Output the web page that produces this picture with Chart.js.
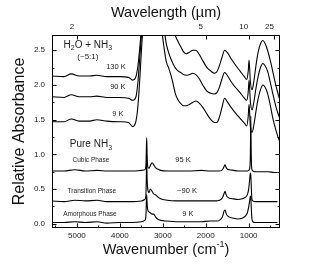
<!DOCTYPE html>
<html>
<head>
<meta charset="utf-8">
<script src="https://cdn.jsdelivr.net/npm/chart.js"></script>
<style>
  body { margin: 0; background: #fff; }
</style>
</head>
<body>
<canvas id="spectra" width="326" height="265"></canvas>
<script>
// axis ranges and tick labels
const wnMin = 270, wnMax = 5580;
const absMin = -0.06, absMax = 2.72;
const wnTicks = [5000, 4000, 3000, 2000, 1000];
const wavelengthTicks = [2, 5, 10, 25];          // microns, top axis
const absTicks = [0, 0.5, 1, 1.5, 2, 2.5];

// H2O + NH3 (~5:1) mixture spectra, offset
const mixWavenumbers = [5580, 5300, 5130, 4950, 4700, 4540, 4300, 4000, 3800, 3700,
  3625, 3578, 3532, 3485, 3440, 3250, 3050, 2980, 2920, 2860,
  2800, 2740, 2700, 2640, 2580, 2520, 2450, 2380, 2300, 2230,
  2150, 2060, 1970, 1880, 1800, 1740, 1680, 1620, 1560, 1500,
  1400, 1300, 1200, 1100, 1045, 1010, 990, 960, 920, 880,
  830, 780, 720, 670, 620, 560, 500, 440, 370, 300, 270];
const mix130K = [2.13, 2.12, 2.16, 2.13, 2.13, 2.14, 2.12, 2.12, 2.11, 2.07,
  2.12, 2.28, 2.56, 2.9, 3.2, 3.5, 3.3, 3.15, 3.05, 2.98,
  2.9, 2.8, 2.7, 2.62, 2.55, 2.48, 2.45, 2.47, 2.5, 2.5,
  2.44, 2.34, 2.25, 2.2, 2.17, 2.19, 2.28, 2.4, 2.5, 2.47,
  2.37, 2.28, 2.2, 2.12, 2.08, 2.2, 2.36, 2.05, 1.93, 2.05,
  2.28, 2.47, 2.6, 2.64, 2.6, 2.5, 2.36, 2.2, 2.0, 1.84, 1.78];
const mix90K = [1.83, 1.82, 1.86, 1.83, 1.83, 1.84, 1.82, 1.82, 1.81, 1.78,
  1.83, 2.05, 2.43, 2.8, 3.1, 3.4, 3.0, 2.85, 2.6, 2.46,
  2.36, 2.28, 2.24, 2.2, 2.18, 2.15, 2.14, 2.15, 2.17, 2.15,
  2.09, 1.99, 1.91, 1.88, 1.87, 1.89, 1.97, 2.09, 2.18, 2.14,
  2.04, 1.96, 1.89, 1.81, 1.78, 1.9, 2.07, 1.76, 1.64, 1.75,
  1.95, 2.12, 2.26, 2.31, 2.28, 2.2, 2.05, 1.88, 1.7, 1.56, 1.52];
const mix9K = [1.47, 1.47, 1.51, 1.48, 1.48, 1.5, 1.48, 1.47, 1.46, 1.4,
  1.48, 1.7, 2.12, 2.62, 2.95, 3.3, 2.9, 2.58, 2.34, 2.24,
  2.12, 1.96, 1.86, 1.78, 1.73, 1.7, 1.7, 1.72, 1.75, 1.77,
  1.74, 1.67, 1.58, 1.5, 1.46, 1.46, 1.54, 1.68, 1.81, 1.76,
  1.67, 1.59, 1.52, 1.45, 1.41, 1.55, 1.72, 1.4, 1.32, 1.42,
  1.62, 1.8, 1.94, 2.0, 1.97, 1.88, 1.72, 1.53, 1.36, 1.22, 1.18];

// pure NH3 spectra, offset
const nh3Wavenumbers = [5580, 5300, 5050, 4800, 4530, 4300, 4000, 3700, 3500, 3420,
  3395, 3385, 3375, 3365, 3350, 3320, 3290, 3250, 3210, 3170,
  3120, 3050, 2900, 2700, 2400, 2100, 1900, 1750, 1680, 1630,
  1600, 1570, 1550, 1530, 1500, 1450, 1350, 1250, 1150, 1080,
  1030, 1000, 975, 960, 950, 940, 925, 900, 850, 700, 550, 400, 330];
const nh3Cubic = [0.76, 0.76, 0.78, 0.76, 0.77, 0.76, 0.76, 0.76, 0.77, 0.78,
  0.82, 1.0, 1.24, 1.0, 0.82, 0.8, 0.84, 0.88, 0.85, 0.81,
  0.79, 0.77, 0.76, 0.76, 0.76, 0.77, 0.76, 0.76, 0.76, 0.77,
  0.79, 0.83, 0.85, 0.82, 0.79, 0.78, 0.77, 0.76, 0.76, 0.76,
  0.76, 0.77, 0.8, 1.0, 1.55, 1.0, 0.78, 0.76, 0.75, 0.75, 0.75, 0.74, 0.74];
const nh3Transition = [0.33, 0.32, 0.34, 0.33, 0.34, 0.32, 0.32, 0.32, 0.33, 0.35,
  0.4, 0.6, 0.92, 0.65, 0.5, 0.45, 0.5, 0.47, 0.43, 0.42,
  0.39, 0.36, 0.34, 0.33, 0.33, 0.33, 0.33, 0.33, 0.34, 0.36,
  0.39, 0.44, 0.47, 0.43, 0.39, 0.37, 0.36, 0.35, 0.36, 0.38,
  0.42, 0.5, 0.65, 0.73, 0.7, 0.55, 0.36, 0.33, 0.32, 0.32, 0.32, 0.32, 0.32];
const nh3Amorphous = [0.02, 0.02, 0.03, 0.02, 0.03, 0.01, 0.02, 0.02, 0.03, 0.05,
  0.1, 0.25, 0.42, 0.3, 0.2, 0.17, 0.16, 0.14, 0.14, 0.1,
  0.07, 0.05, 0.04, 0.03, 0.03, 0.03, 0.04, 0.04, 0.05, 0.08,
  0.12, 0.19, 0.2, 0.16, 0.12, 0.1, 0.08, 0.07, 0.08, 0.11,
  0.16, 0.24, 0.34, 0.4, 0.38, 0.25, 0.08, 0.03, 0.02, 0.02, 0.02, 0.02, 0.02];

// in-plot labels, placed in data coordinates (wavenumber, absorbance)
// "_n" makes n a subscript
const notes = [
  { text: 'H_2O + NH_3', wn: 4744, v: 2.57, size: 10 },
  { text: '(~5:1)', wn: 4744, v: 2.40, size: 8 },
  { text: '130 K', wn: 4091, v: 2.26, size: 7.5 },
  { text: '90 K', wn: 4045, v: 1.97, size: 7.5 },
  { text: '9 K', wn: 4045, v: 1.59, size: 7.5 },
  { text: 'Pure NH_3', wn: 4674, v: 1.14, size: 10 },
  { text: 'Cubic Phase', wn: 4674, v: 0.92, size: 6.5 },
  { text: '95 K', wn: 2529, v: 0.92, size: 7.5 },
  { text: 'Transition Phase', wn: 4651, v: 0.47, size: 6.5 },
  { text: '~90 K', wn: 2436, v: 0.47, size: 7.5 },
  { text: 'Amorphous Phase', wn: 4697, v: 0.14, size: 6.5 },
  { text: '9 K', wn: 2413, v: 0.14, size: 7.5 }
];

const FONT = "'Liberation Sans', Arial, sans-serif";

const spectrum = (label, xs, ys) => ({
  label: label,
  data: xs.map((x, i) => ({ x: x, y: ys[i] })),
  borderColor: '#000',
  borderWidth: 1.1,
  pointRadius: 0,
  fill: false,
  cubicInterpolationMode: 'monotone'
});

// split "H_2O" into normal / subscript pieces
function pieces(text) {
  const out = [];
  let buf = '';
  for (let i = 0; i < text.length; i++) {
    if (text[i] === '_') {
      if (buf) out.push({ s: buf, sub: false });
      buf = '';
      out.push({ s: text[i + 1], sub: true });
      i++;
    } else {
      buf += text[i];
    }
  }
  if (buf) out.push({ s: buf, sub: false });
  return out;
}

function drawRich(ctx, text, cx, cy, size) {
  const parts = pieces(text);
  const subSize = size * 0.7;
  let total = 0;
  parts.forEach(p => {
    ctx.font = (p.sub ? subSize : size) + 'px ' + FONT;
    p.w = ctx.measureText(p.s).width;
    total += p.w;
  });
  let x = cx - total / 2;
  ctx.textAlign = 'left';
  ctx.textBaseline = 'middle';
  parts.forEach(p => {
    ctx.font = (p.sub ? subSize : size) + 'px ' + FONT;
    ctx.fillText(p.s, x, p.sub ? cy + size * 0.3 : cy);
    x += p.w;
  });
}

const frameAndText = {
  id: 'frameAndText',
  afterDraw(chart) {
    const { ctx, chartArea: a, scales } = chart;
    const xs = scales.x, ys = scales.y;
    const L = Math.round(a.left) + 0.5, R = Math.round(a.right) - 0.5;
    const T = Math.round(a.top) + 0.5, B = Math.round(a.bottom) - 0.5;
    ctx.save();
    ctx.strokeStyle = '#000';
    ctx.lineWidth = 1;
    ctx.strokeRect(L, T, R - L, B - T);

    // inward ticks
    ctx.beginPath();
    for (let w = 500; w <= wnMax; w += 500) {
      if (w < wnMin) continue;
      const px = Math.round(xs.getPixelForValue(w)) + 0.5;
      const len = w % 1000 === 0 ? 4 : 2;
      ctx.moveTo(px, B); ctx.lineTo(px, B - len);
    }
    for (let v = 0; v <= absMax; v += 0.25) {
      const py = Math.round(ys.getPixelForValue(v)) + 0.5;
      const len = Math.abs(v * 2 - Math.round(v * 2)) < 1e-6 ? 4 : 2;
      ctx.moveTo(L, py); ctx.lineTo(L + len, py);
      ctx.moveTo(R, py); ctx.lineTo(R - len, py);
    }
    wavelengthTicks.forEach(um => {
      const px = Math.round(xs.getPixelForValue(10000 / um)) + 0.5;
      ctx.moveTo(px, T); ctx.lineTo(px, T + 4);
    });
    ctx.stroke();

    // axis titles
    ctx.fillStyle = '#111';
    const cx = (a.left + a.right) / 2;
    ctx.font = '14.5px ' + FONT;
    ctx.textAlign = 'center';
    ctx.textBaseline = 'middle';
    ctx.fillText('Wavelength (\u00b5m)', cx, 13);

    // Wavenumber (cm^-1)
    const base = 'Wavenumber (cm', sup = '-1', tail = ')';
    ctx.font = '14.5px ' + FONT;
    const wBase = ctx.measureText(base).width, wTail = ctx.measureText(tail).width;
    ctx.font = '9px ' + FONT;
    const wSup = ctx.measureText(sup).width;
    let x0 = cx - (wBase + wSup + wTail) / 2;
    ctx.textAlign = 'left';
    ctx.font = '14.5px ' + FONT;
    ctx.fillText(base, x0, 250);
    ctx.font = '9px ' + FONT;
    ctx.fillText(sup, x0 + wBase, 245);
    ctx.font = '14.5px ' + FONT;
    ctx.fillText(tail, x0 + wBase + wSup, 250);

    ctx.save();
    ctx.translate(20, (a.top + a.bottom) / 2);
    ctx.rotate(-Math.PI / 2);
    ctx.textAlign = 'center';
    ctx.font = '16px ' + FONT;
    ctx.fillText('Relative Absorbance', 0, 0);
    ctx.restore();

    // in-plot labels
    ctx.fillStyle = '#222';
    notes.forEach(n => {
      drawRich(ctx, n.text, xs.getPixelForValue(n.wn), ys.getPixelForValue(n.v), n.size);
    });
    ctx.restore();
  }
};

const tickFont = { family: FONT, size: 8 };

new Chart(document.getElementById('spectra'), {
  type: 'line',
  data: {
    datasets: [
      spectrum('H2O+NH3 130 K', mixWavenumbers, mix130K),
      spectrum('H2O+NH3 90 K', mixWavenumbers, mix90K),
      spectrum('H2O+NH3 9 K', mixWavenumbers, mix9K),
      spectrum('NH3 cubic 95 K', nh3Wavenumbers, nh3Cubic),
      spectrum('NH3 transition ~90 K', nh3Wavenumbers, nh3Transition),
      spectrum('NH3 amorphous 9 K', nh3Wavenumbers, nh3Amorphous)
    ]
  },
  options: {
    responsive: false,
    animation: false,
    devicePixelRatio: 1,
    layout: { padding: { left: 0, right: 46, top: 0, bottom: 0 } },
    plugins: { legend: { display: false }, tooltip: { enabled: false } },
    scales: {
      x: {
        type: 'linear',
        position: 'bottom',
        min: wnMin,
        max: wnMax,
        reverse: true,
        grid: { display: false, drawTicks: false },
        border: { display: false },
        ticks: { font: tickFont, color: '#222', padding: 3, maxRotation: 0, callback: v => String(v) },
        afterBuildTicks: s => { s.ticks = wnTicks.map(v => ({ value: v })); },
        afterFit: s => { s.height = 37; }
      },
      x2: {
        type: 'linear',
        position: 'top',
        min: wnMin,
        max: wnMax,
        reverse: true,
        grid: { display: false, drawTicks: false },
        border: { display: false },
        ticks: { font: tickFont, color: '#222', padding: 3, maxRotation: 0, labelOffset: -5,
          callback: v => String(Math.round(10000 / v)) },
        afterBuildTicks: s => { s.ticks = wavelengthTicks.map(um => ({ value: 10000 / um })); },
        afterFit: s => { s.height = 35; }
      },
      y: {
        type: 'linear',
        min: absMin,
        max: absMax,
        grid: { display: false, drawTicks: false },
        border: { display: false },
        ticks: { font: tickFont, color: '#222', padding: 7, callback: v => v.toFixed(1) },
        afterBuildTicks: s => { s.ticks = absTicks.map(v => ({ value: v })); },
        afterFit: s => { s.width = 52; }
      }
    }
  },
  plugins: [frameAndText]
});
</script>
</body>
</html>
